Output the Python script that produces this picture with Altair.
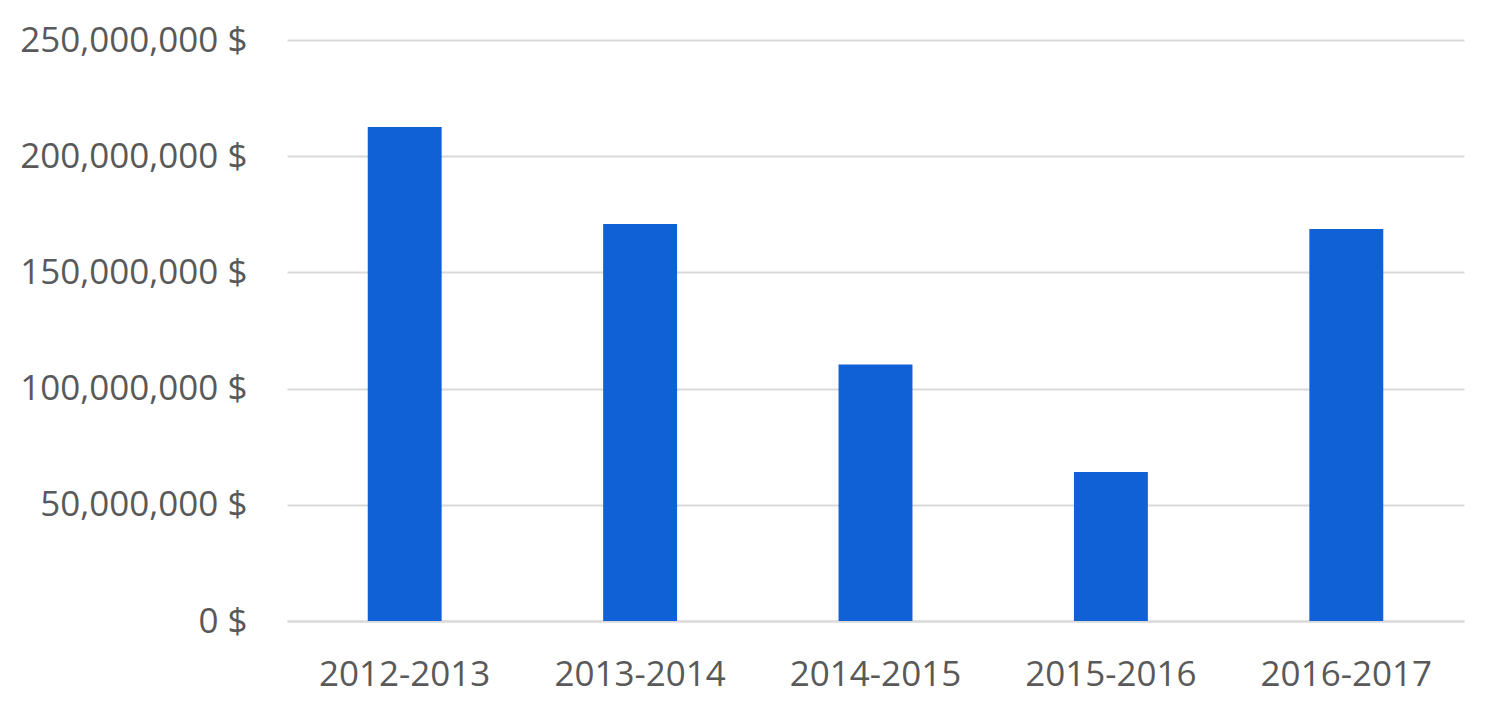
import altair as alt
import pandas as pd

years = ["2012-2013", "2013-2014", "2014-2015", "2015-2016", "2016-2017"]
values = [212600000, 170800000, 110400000, 64100000, 168700000]

df = pd.DataFrame({"year": years, "value": values})

font = "Open Sans"

chart = alt.Chart(df).mark_bar(color="#1060D6").encode(
    x=alt.X("year:N", sort=years, title=None,
            scale=alt.Scale(paddingInner=0.686, paddingOuter=0.343),
            axis=alt.Axis(labelAngle=0, labelFont=font, labelFontSize=35,
                          labelColor="#595959", labelPadding=36, ticks=False,
                          labelLimit=400,
                          domain=True, domainColor="#d9d9d9", domainWidth=2, grid=False)),
    y=alt.Y("value:Q", title=None,
            scale=alt.Scale(domain=[0, 250000000], nice=False),
            axis=alt.Axis(values=[0, 50000000, 100000000, 150000000, 200000000, 250000000],
                          labelExpr="format(datum.value, ',') + ' $'",
                          labelFont=font, labelFontSize=35, labelColor="#595959",
                          labelPadding=40, labelLimit=400, ticks=False, domain=False,
                          grid=True, gridColor="#d9d9d9", gridWidth=2)),
).properties(
    width=1177, height=581,
    autosize=alt.AutoSizeParams(type="none"),
    padding={"left": 279, "top": 32, "right": 28, "bottom": 80},
).configure_view(stroke=None)

chart.save("out.html", embed_options={"renderer": "svg", "actions": False})
